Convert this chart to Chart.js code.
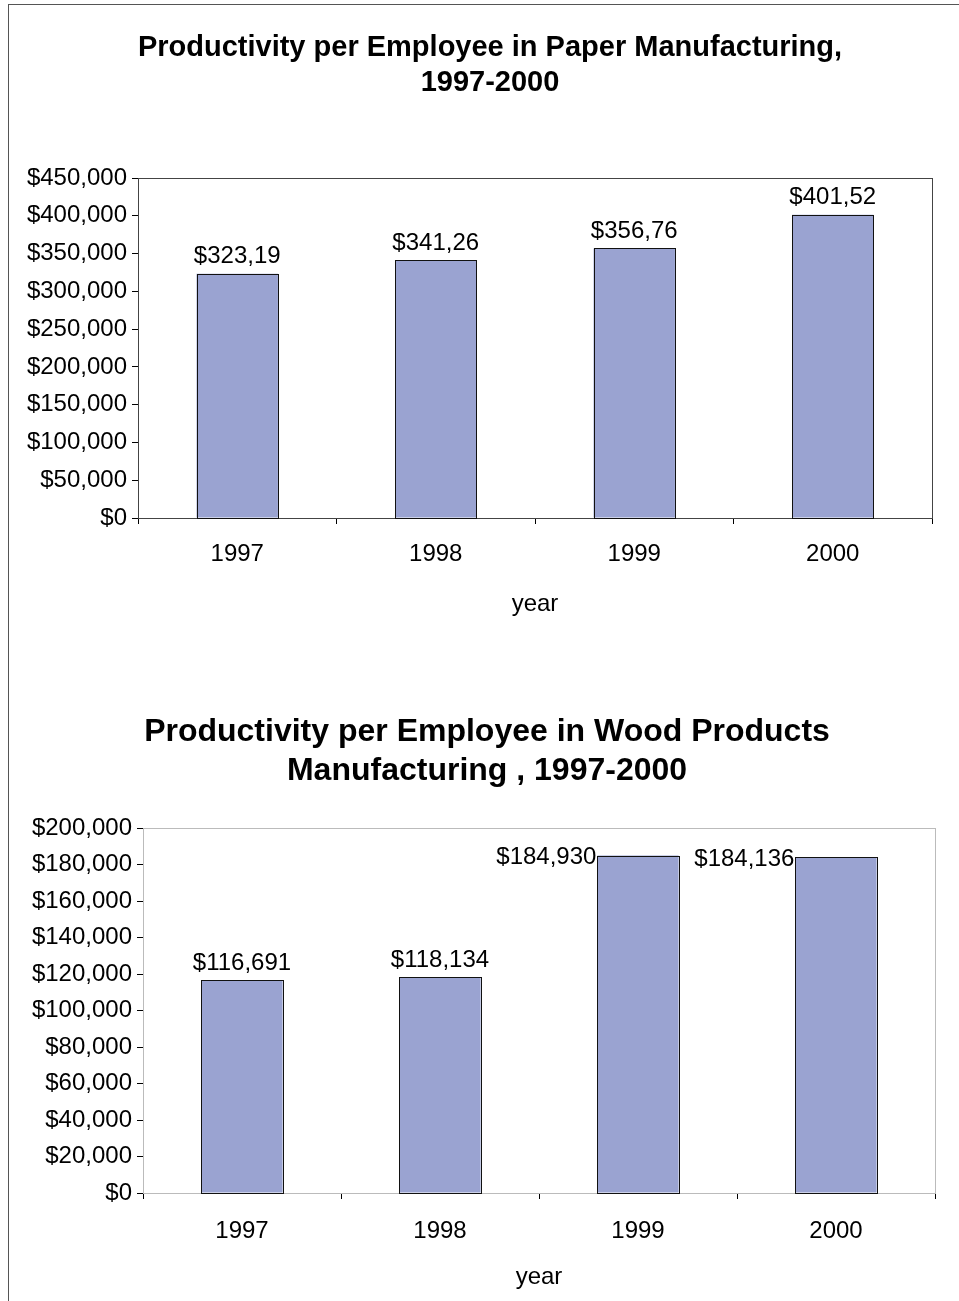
<!DOCTYPE html>
<html>
<head>
<meta charset="utf-8">
<script src="https://cdn.jsdelivr.net/npm/chart.js@4.4.0/dist/chart.umd.min.js"></script>
<style>
  html, body { margin: 0; padding: 0; background: #fff; overflow: hidden; }
  #frame { position: absolute; left: 8px; top: 4px; width: 1000px; height: 1400px;
           border-left: 1px solid #555; border-top: 1px solid #555; }
  canvas { position: absolute; left: 0; }
  #paper { top: 1px; }
  #wood { top: 641px; }
</style>
</head>
<body>
<div id="frame">
  <canvas id="paper" width="964" height="640"></canvas>
  <canvas id="wood" width="964" height="656"></canvas>
</div>
<script>
const years = ['1997', '1998', '1999', '2000'];
const paperValues = [323190, 341260, 356760, 401520];
const woodValues = [116691, 118134, 184930, 184136];
const paperTicks = { min: 0, max: 450000, step: 50000 };
const woodTicks = { min: 0, max: 200000, step: 20000 };

const FONT = '"Liberation Sans", Arial, sans-serif';
const money = v => '$' + Number(v).toLocaleString('en-US');

// value labels, plot frame, and title centred on a fixed x
const barLabels = {
  id: 'barLabels',
  afterLayout(chart, args, opts) {
    const t = chart.titleBlock;
    if (!t || opts.titleX == null) return;
    const half = (t.right - t.left) / 2;
    t.left = opts.titleX - half;
    t.right = opts.titleX + half;
  },
  beforeDatasetsDraw(chart, args, opts) {
    const a = chart.chartArea, c = chart.ctx;
    c.save();
    c.strokeStyle = opts.frame;
    c.lineWidth = 1;
    c.strokeRect(Math.round(a.left) + 0.5, Math.round(a.top) + 0.5,
                 Math.round(a.right - a.left), Math.round(a.bottom - a.top));
    c.restore();
  },
  afterDatasetsDraw(chart, args, opts) {
    const c = chart.ctx;
    const meta = chart.getDatasetMeta(0);
    const vals = chart.data.datasets[0].data;
    c.save();
    // crisp outline round each bar
    c.strokeStyle = '#111';
    c.lineWidth = 1;
    meta.data.forEach(bar => {
      const l = Math.round(bar.x - bar.width / 2) + 0.5;
      const r = Math.round(bar.x + bar.width / 2) + 0.5;
      const t = Math.round(bar.y) + 0.5;
      const b = Math.round(bar.base) + 0.5;
      c.strokeRect(l, t, r - l, b - t);
    });
    c.font = '24px ' + FONT;
    c.fillStyle = '#000';
    meta.data.forEach((bar, i) => {
      let txt = money(vals[i]);
      if (opts.cut) txt = txt.slice(0, -1);
      const pos = (opts.place || [])[i] || 'top';
      if (pos === 'left') {
        c.textAlign = 'right';
        c.textBaseline = 'middle';
        c.fillText(txt, bar.x - bar.width / 2 - 1, bar.y + 2);
      } else {
        c.textAlign = 'center';
        c.textBaseline = 'bottom';
        c.fillText(txt, bar.x, bar.y - 5);
      }
    });
    c.restore();
  }
};

function makeChart(id, title, titleFont, titlePad, values, ticks, box) {
  return new Chart(document.getElementById(id), {
    type: 'bar',
    data: {
      labels: years,
      datasets: [{
        data: values,
        backgroundColor: '#9aa3d1',
        borderWidth: 0,
        categoryPercentage: 1,
        barPercentage: 0.41
      }]
    },
    options: {
      responsive: false,
      animation: false,
      layout: { padding: { left: 0, right: box.right, top: 0, bottom: 0 } },
      plugins: {
        legend: { display: false },
        tooltip: { enabled: false },
        title: {
          display: true,
          text: title,
          color: '#000',
          font: Object.assign({ family: FONT, weight: 'bold' }, titleFont),
          padding: titlePad
        },
        barLabels: box.labels
      },
      scales: {
        x: {
          grid: { drawOnChartArea: false, drawTicks: true, tickLength: 6, color: '#000', offset: true },
          border: { display: true, color: box.xAxis, width: 1 },
          ticks: { color: '#000', padding: box.xPad, font: { family: FONT, size: 24 } },
          title: {
            display: true, text: 'year', color: '#000',
            font: { family: FONT, size: 24 },
            padding: { top: 0, bottom: box.yearPad }
          },
          afterFit: s => { s.height = box.xHeight; }
        },
        y: {
          min: ticks.min, max: ticks.max,
          grid: { drawOnChartArea: false, drawTicks: true, tickLength: 6, color: '#000' },
          border: { display: true, color: '#000', width: 1 },
          ticks: {
            stepSize: ticks.step, color: '#000', padding: 5,
            font: { family: FONT, size: 24 },
            callback: v => money(v)
          },
          afterFit: s => { s.width = box.yWidth; }
        }
      }
    },
    plugins: [barLabels]
  });
}

makeChart('paper',
  ['Productivity per Employee in Paper Manufacturing,', '1997-2000'],
  { size: 29, lineHeight: '35px' }, { top: 24, bottom: 78 },
  paperValues, paperTicks,
  { right: 41, yWidth: 129, xHeight: 128, xPad: 16, yearPad: 27, xAxis: '#222',
    labels: { frame: '#444', cut: true, titleX: 481 } });

makeChart('wood',
  ['Productivity per Employee in Wood Products', 'Manufacturing , 1997-2000'],
  { size: 32, lineHeight: '39px' }, { top: 67, bottom: 37 },
  woodValues, woodTicks,
  { right: 38, yWidth: 134, xHeight: 109, xPad: 18, yearPad: 10, xAxis: '#444',
    labels: { frame: '#bbb', cut: false, place: ['top', 'top', 'left', 'left'], titleX: 478 } });
</script>
</body>
</html>
